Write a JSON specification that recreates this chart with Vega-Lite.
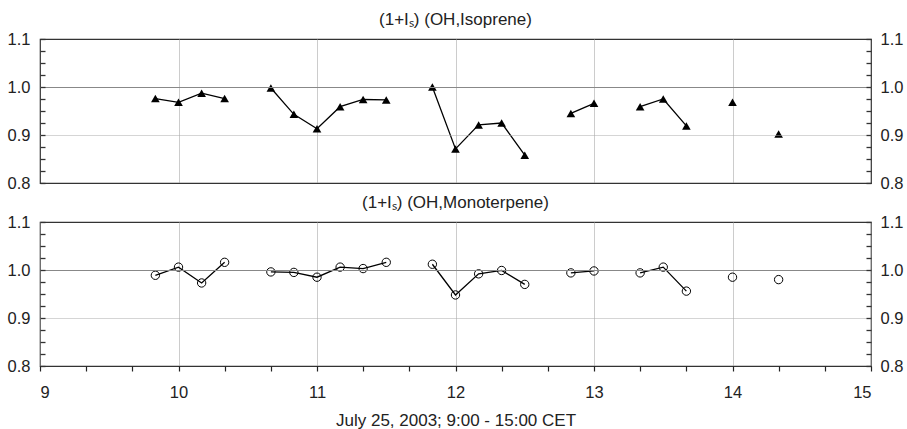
{
  "$schema": "https://vega.github.io/schema/vega-lite/v6.json",
  "padding": {"left": 6, "top": 10, "right": 0, "bottom": 0},
  "config": {
    "font": "Liberation Sans",
    "view": {"stroke": "#333", "strokeWidth": 1.2},
    "axis": {
      "labelFont": "Liberation Sans", "labelFontSize": 16.5, "labelColor": "#222",
      "titleFont": "Liberation Sans", "titleFontSize": 17, "titleFontWeight": "normal", "titleColor": "#222",
      "domain": false, "ticks": true, "tickColor": "#222", "tickWidth": 1.2
    },
    "title": {"font": "Liberation Sans", "fontSize": 17, "fontWeight": "normal", "color": "#222", "offset": 2},
    "concat": {"spacing": 0}
  },
  "datasets": {
    "oh": [
      {"species": "Isoprene", "seg": 1, "t": 9.833, "v": 0.976},
      {"species": "Isoprene", "seg": 1, "t": 10.0, "v": 0.968},
      {"species": "Isoprene", "seg": 1, "t": 10.167, "v": 0.987},
      {"species": "Isoprene", "seg": 1, "t": 10.333, "v": 0.976},
      {"species": "Isoprene", "seg": 2, "t": 10.667, "v": 0.998},
      {"species": "Isoprene", "seg": 2, "t": 10.833, "v": 0.943},
      {"species": "Isoprene", "seg": 2, "t": 11.0, "v": 0.913},
      {"species": "Isoprene", "seg": 2, "t": 11.167, "v": 0.959},
      {"species": "Isoprene", "seg": 2, "t": 11.333, "v": 0.974},
      {"species": "Isoprene", "seg": 2, "t": 11.5, "v": 0.973},
      {"species": "Isoprene", "seg": 3, "t": 11.833, "v": 1.0},
      {"species": "Isoprene", "seg": 3, "t": 12.0, "v": 0.871},
      {"species": "Isoprene", "seg": 3, "t": 12.167, "v": 0.921},
      {"species": "Isoprene", "seg": 3, "t": 12.333, "v": 0.925},
      {"species": "Isoprene", "seg": 3, "t": 12.5, "v": 0.858},
      {"species": "Isoprene", "seg": 4, "t": 12.833, "v": 0.945},
      {"species": "Isoprene", "seg": 4, "t": 13.0, "v": 0.966},
      {"species": "Isoprene", "seg": 5, "t": 13.333, "v": 0.959},
      {"species": "Isoprene", "seg": 5, "t": 13.5, "v": 0.975},
      {"species": "Isoprene", "seg": 5, "t": 13.667, "v": 0.919},
      {"species": "Isoprene", "seg": 6, "t": 14.0, "v": 0.968},
      {"species": "Isoprene", "seg": 7, "t": 14.333, "v": 0.902},
      {"species": "Monoterpene", "seg": 1, "t": 9.833, "v": 0.989},
      {"species": "Monoterpene", "seg": 1, "t": 10.0, "v": 1.006},
      {"species": "Monoterpene", "seg": 1, "t": 10.167, "v": 0.973},
      {"species": "Monoterpene", "seg": 1, "t": 10.333, "v": 1.016},
      {"species": "Monoterpene", "seg": 2, "t": 10.667, "v": 0.996},
      {"species": "Monoterpene", "seg": 2, "t": 10.833, "v": 0.995},
      {"species": "Monoterpene", "seg": 2, "t": 11.0, "v": 0.985},
      {"species": "Monoterpene", "seg": 2, "t": 11.167, "v": 1.006},
      {"species": "Monoterpene", "seg": 2, "t": 11.333, "v": 1.003},
      {"species": "Monoterpene", "seg": 2, "t": 11.5, "v": 1.016},
      {"species": "Monoterpene", "seg": 3, "t": 11.833, "v": 1.012},
      {"species": "Monoterpene", "seg": 3, "t": 12.0, "v": 0.948},
      {"species": "Monoterpene", "seg": 3, "t": 12.167, "v": 0.992},
      {"species": "Monoterpene", "seg": 3, "t": 12.333, "v": 0.999},
      {"species": "Monoterpene", "seg": 3, "t": 12.5, "v": 0.970},
      {"species": "Monoterpene", "seg": 4, "t": 12.833, "v": 0.994},
      {"species": "Monoterpene", "seg": 4, "t": 13.0, "v": 0.998},
      {"species": "Monoterpene", "seg": 5, "t": 13.333, "v": 0.994},
      {"species": "Monoterpene", "seg": 5, "t": 13.5, "v": 1.006},
      {"species": "Monoterpene", "seg": 5, "t": 13.667, "v": 0.956},
      {"species": "Monoterpene", "seg": 6, "t": 14.0, "v": 0.985},
      {"species": "Monoterpene", "seg": 7, "t": 14.333, "v": 0.980}
    ]
  },
  "vconcat": [
    {
      "width": 831, "height": 144,
      "title": "(1+Iₛ) (OH,Isoprene)",
      "data": {"name": "oh"},
      "transform": [{"filter": "datum.species == 'Isoprene'"}],
      "resolve": {"scale": {"y": "independent"}},
      "layer": [
        {
          "mark": {"type": "line", "color": "black", "strokeWidth": 1.3},
          "encoding": {
            "x": {"field": "t", "type": "quantitative", "scale": {"domain": [9, 15], "nice": false},
              "axis": {"values": [10, 11, 12, 13, 14], "labels": false, "ticks": false, "title": null,
                "grid": true, "gridColor": "#999", "gridDash": [1, 1]}},
            "y": {"field": "v", "type": "quantitative", "scale": {"domain": [0.8, 1.1], "nice": false, "zero": false},
              "axis": {"orient": "left", "title": null, "offset": -5, "zindex": 2,
                "values": [0.8, 0.825, 0.85, 0.875, 0.9, 0.925, 0.95, 0.975, 1.0, 1.025, 1.05, 1.075, 1.1],
                "labelExpr": "abs(datum.value*10 - round(datum.value*10)) < 0.01 ? format(datum.value, '.1f') : ''",
                "ticks": true, "tickSize": 5, "tickWidth": 1.3, "tickColor": "#333", "labelPadding": 10, "grid": true,
                "gridOpacity": {"condition": {"test": "datum.value == 1 || datum.value == 0.9", "value": 1}, "value": 0},
                "gridColor": {"condition": {"test": "datum.value == 1", "value": "#888"}, "value": "#aaa"},
                "gridDash": {"condition": {"test": "datum.value == 1", "value": []}, "value": [1, 1]}}},
            "detail": {"field": "seg"}
          }
        },
        {
          "mark": {"type": "point", "shape": "triangle-up", "filled": true, "color": "black", "size": 75, "opacity": 1},
          "encoding": {
            "x": {"field": "t", "type": "quantitative", "scale": {"domain": [9, 15], "nice": false},
              "axis": {"values": [10, 11, 12, 13, 14], "labels": false, "ticks": false, "title": null,
                "grid": true, "gridColor": "#999", "gridDash": [1, 1]}},
            "y": {"field": "v", "type": "quantitative", "scale": {"domain": [0.8, 1.1], "nice": false, "zero": false},
              "axis": {"orient": "right", "title": null, "offset": -5, "zindex": 2,
                "values": [0.8, 0.825, 0.85, 0.875, 0.9, 0.925, 0.95, 0.975, 1.0, 1.025, 1.05, 1.075, 1.1],
                "labelExpr": "abs(datum.value*10 - round(datum.value*10)) < 0.01 ? format(datum.value, '.1f') : ''",
                "ticks": true, "tickSize": 5, "tickWidth": 1.3, "tickColor": "#333", "labelPadding": 9, "grid": false}}
          }
        }
      ]
    },
    {
      "width": 831, "height": 144,
      "title": "(1+Iₛ) (OH,Monoterpene)",
      "data": {"name": "oh"},
      "transform": [{"filter": "datum.species == 'Monoterpene'"}],
      "resolve": {"scale": {"y": "independent"}},
      "layer": [
        {
          "mark": {"type": "line", "color": "black", "strokeWidth": 1.3},
          "encoding": {
            "x": {"field": "t", "type": "quantitative", "scale": {"domain": [9, 15], "nice": false},
              "axis": {"title": "July 25, 2003; 9:00 - 15:00 CET", "titlePadding": 12,
                "values": [9, 9.333, 9.667, 10, 10.333, 10.667, 11, 11.333, 11.667, 12, 12.333, 12.667, 13, 13.333, 13.667, 14, 14.333, 14.667, 15],
                "labelExpr": "abs(datum.value - round(datum.value)) < 0.01 ? format(datum.value, 'd') : ''",
                "tickSize": 5, "labelPadding": 13, "grid": true, "gridColor": "#999", "gridDash": [1, 1],
                "gridOpacity": {"condition": {"test": "abs(datum.value - round(datum.value)) < 0.01", "value": 1}, "value": 0}}},
            "y": {"field": "v", "type": "quantitative", "scale": {"domain": [0.8, 1.1], "nice": false, "zero": false},
              "axis": {"orient": "left", "title": null, "offset": -5, "zindex": 2,
                "values": [0.8, 0.825, 0.85, 0.875, 0.9, 0.925, 0.95, 0.975, 1.0, 1.025, 1.05, 1.075, 1.1],
                "labelExpr": "abs(datum.value*10 - round(datum.value*10)) < 0.01 ? format(datum.value, '.1f') : ''",
                "ticks": true, "tickSize": 5, "tickWidth": 1.3, "tickColor": "#333", "labelPadding": 10, "grid": true,
                "gridOpacity": {"condition": {"test": "datum.value == 1 || datum.value == 0.9", "value": 1}, "value": 0},
                "gridColor": {"condition": {"test": "datum.value == 1", "value": "#888"}, "value": "#aaa"},
                "gridDash": {"condition": {"test": "datum.value == 1", "value": []}, "value": [1, 1]}}},
            "detail": {"field": "seg"}
          }
        },
        {
          "mark": {"type": "point", "shape": "circle", "filled": false, "color": "black", "size": 70, "strokeWidth": 1, "opacity": 1},
          "encoding": {
            "x": {"field": "t", "type": "quantitative", "scale": {"domain": [9, 15], "nice": false},
              "axis": {"title": "July 25, 2003; 9:00 - 15:00 CET", "titlePadding": 12,
                "values": [9, 9.333, 9.667, 10, 10.333, 10.667, 11, 11.333, 11.667, 12, 12.333, 12.667, 13, 13.333, 13.667, 14, 14.333, 14.667, 15],
                "labelExpr": "abs(datum.value - round(datum.value)) < 0.01 ? format(datum.value, 'd') : ''",
                "tickSize": 5, "labelPadding": 13, "grid": true, "gridColor": "#999", "gridDash": [1, 1],
                "gridOpacity": {"condition": {"test": "abs(datum.value - round(datum.value)) < 0.01", "value": 1}, "value": 0}}},
            "y": {"field": "v", "type": "quantitative", "scale": {"domain": [0.8, 1.1], "nice": false, "zero": false},
              "axis": {"orient": "right", "title": null, "offset": -5, "zindex": 2,
                "values": [0.8, 0.825, 0.85, 0.875, 0.9, 0.925, 0.95, 0.975, 1.0, 1.025, 1.05, 1.075, 1.1],
                "labelExpr": "abs(datum.value*10 - round(datum.value*10)) < 0.01 ? format(datum.value, '.1f') : ''",
                "ticks": true, "tickSize": 5, "tickWidth": 1.3, "tickColor": "#333", "labelPadding": 9, "grid": false}}
          }
        }
      ]
    }
  ]
}
